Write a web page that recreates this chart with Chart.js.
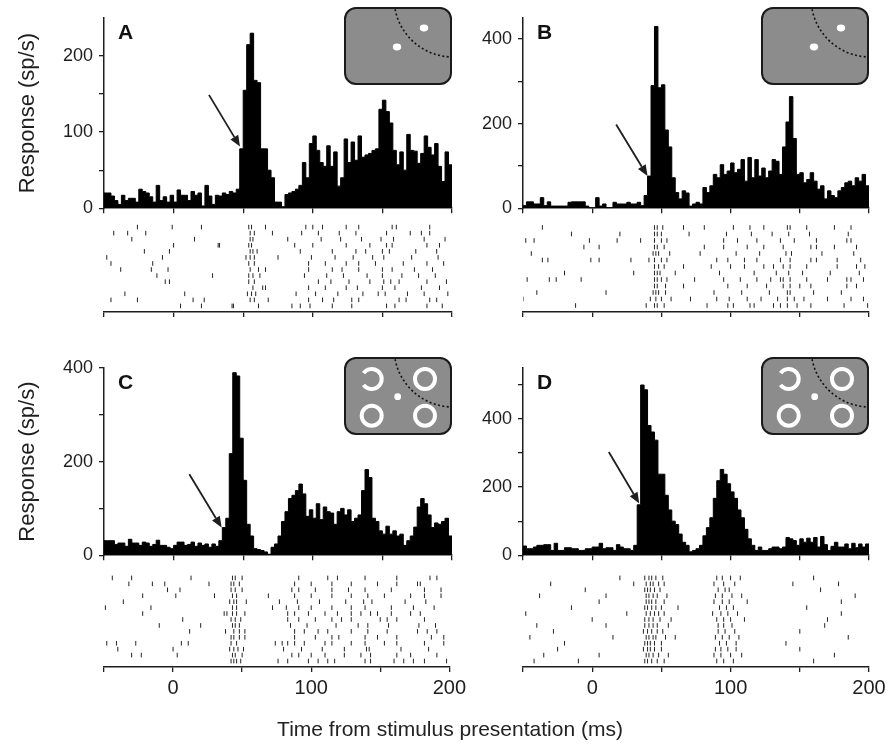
<!DOCTYPE html>
<html>
<head>
<meta charset="utf-8">
<title>PSTH and rasters</title>
<script src="https://cdn.jsdelivr.net/npm/chart.js@4.4.1/dist/chart.umd.min.js"></script>
<style>
  body { margin: 0; background: #fff; width: 893px; height: 745px; position: relative; overflow: hidden;
         font-family: "Liberation Sans", Arial, sans-serif; }
  canvas { position: absolute; }
  #xtitle { position: absolute; left: 0; width: 900px; top: 717px; text-align: center; font-size: 21px; color: #222; }
</style>
</head>
<body>
<canvas id="histA"></canvas>
<canvas id="histB"></canvas>
<canvas id="rastA"></canvas>
<canvas id="rastB"></canvas>
<canvas id="histC"></canvas>
<canvas id="histD"></canvas>
<canvas id="rastC"></canvas>
<canvas id="rastD"></canvas>
<div id="xtitle">Time from stimulus presentation (ms)</div>
<script>
// time axis (ms) and histogram bins
const timeTicks = [-50, 0, 50, 100, 150, 200];
const timeLabels = [0, 100, 200];
const binStart = -50;
const binWidth = 2.5;

// firing rate per 2.5 ms bin (sp/s)
const rateA = [
  20, 20, 16, 10, 5, 17, 10, 13, 13, 8,
  25, 22, 20, 15, 8, 30, 10, 15, 8, 17,
  8, 24, 17, 17, 10, 22, 17, 20, 3, 30,
  16, 5, 17, 16, 20, 18, 22, 20, 25, 78,
  155, 215, 230, 168, 165, 78, 78, 50, 40, 8,
  8, 2, 18, 20, 22, 25, 30, 60, 40, 85,
  95, 76, 60, 55, 82, 55, 74, 29, 40, 91,
  60, 87, 63, 95, 67, 70, 72, 76, 78, 130,
  142, 127, 112, 76, 57, 74, 50, 97, 76, 75,
  59, 72, 95, 80, 70, 85, 55, 35, 74, 57
];
const rateB = [
  6, 15, 15, 10, 10, 25, 6, 15, 5, 5,
  5, 5, 5, 14, 15, 15, 15, 15, 5, 0,
  0, 25, 5, 10, 1, 1, 14, 10, 10, 10,
  14, 10, 10, 14, 6, 30, 76, 290, 430, 285,
  292, 185, 145, 72, 37, 22, 41, 36, 5, 10,
  14, 10, 49, 37, 53, 80, 72, 103, 80, 88,
  107, 84, 92, 115, 64, 120, 72, 115, 76, 95,
  72, 88, 115, 111, 80, 145, 204, 264, 165, 80,
  84, 60, 68, 84, 64, 45, 53, 22, 41, 30,
  25, 41, 49, 60, 64, 53, 72, 64, 80, 53
];
const rateC = [
  31, 31, 31, 23, 26, 26, 19, 34, 26, 26,
  21, 28, 26, 19, 23, 32, 21, 21, 17, 14,
  21, 28, 28, 21, 23, 28, 19, 26, 21, 24,
  17, 24, 19, 31, 59, 79, 217, 390, 383, 250,
  160, 66, 41, 14, 12, 10, 7, 2, 17, 24,
  41, 72, 93, 121, 128, 138, 152, 131, 83, 97,
  79, 110, 76, 103, 93, 90, 66, 93, 100, 86,
  97, 72, 79, 86, 138, 183, 166, 79, 72, 52,
  45, 62, 45, 52, 41, 45, 21, 31, 41, 60,
  103, 121, 110, 86, 59, 69, 66, 72, 79, 41
];
const rateD = [
  27, 19, 19, 24, 29, 29, 31, 31, 14, 35,
  14, 14, 22, 22, 19, 19, 14, 14, 19, 19,
  24, 24, 35, 19, 22, 22, 14, 31, 24, 19,
  19, 14, 29, 148, 500, 486, 381, 362, 338, 238,
  238, 176, 133, 100, 90, 62, 38, 29, 10, 14,
  19, 29, 57, 81, 110, 167, 219, 252, 238, 210,
  186, 167, 133, 110, 76, 48, 29, 14, 24, 14,
  14, 19, 24, 24, 19, 24, 52, 48, 43, 29,
  48, 38, 50, 38, 52, 24, 55, 31, 14, 26,
  38, 24, 24, 33, 19, 35, 22, 33, 24, 33
];

// response axis ticks per panel
const yMaxA = 250, yTicksA = [0, 50, 100, 150, 200], yLabelsA = [0, 100, 200];
const yMaxB = 450, yTicksB = [0, 100, 200, 300, 400], yLabelsB = [0, 200, 400];
const yMaxC = 400, yTicksC = [0, 100, 200, 300, 400], yLabelsC = [0, 200, 400];
const yMaxD = 550, yTicksD = [0, 100, 200, 300, 400, 500], yLabelsD = [0, 200, 400];

// arrows: [tail, tip] as [ms, sp/s]
const arrowA = [[25.4, 149], [47.7, 81]];
const arrowB = [[17.3, 198], [40, 76]];
const arrowC = [[11.3, 173], [34.5, 59]];
const arrowD = [[12, 303], [34, 152]];

// spike times (ms), one array per trial
const spikesA = [
  [5, 20, 42, 43, 61, 85, 91, 98, 114, 128, 153, 159, 182, 193],
  [-45, -26, 14, 22, 55, 58, 68, 97, 107, 115, 128, 133, 162, 167, 184, 189],
  [-35, 8, 53, 56, 59, 88, 102, 118, 136, 147, 152, 168, 180, 197],
  [57, 64, 66, 97, 109, 124, 132, 150, 159, 178, 191],
  [-6, -3, 54, 58, 104, 113, 126, 141, 151, 156, 162, 182, 196],
  [-12, 28, 54, 57, 62, 94, 110, 122, 139, 150, 164, 176, 188],
  [-38, -16, -4, 55, 61, 66, 97, 114, 121, 133, 150, 157, 173, 186],
  [-45, -15, 54, 58, 97, 109, 124, 133, 145, 165, 182, 194],
  [-48, -8, 52, 55, 58, 75, 99, 116, 129, 143, 151, 171, 190],
  [-21, -3, 55, 57, 60, 91, 114, 131, 138, 150, 155, 174, 189],
  [0, 32, 33, 54, 56, 87, 100, 124, 141, 153, 157, 182, 191],
  [-30, 15, 55, 57, 82, 106, 120, 135, 149, 158, 180, 195],
  [-43, -33, -20, 55, 58, 71, 92, 104, 119, 131, 153, 170, 178, 184],
  [-26, -1, 20, 54, 56, 66, 95, 100, 107, 124, 133, 157, 160, 184]
];
const spikesB = [
  [-12, 39, 45, 47, 52, 83, 98, 102, 114, 117, 131, 136, 141, 148, 158, 182, 199],
  [-50, 42, 46, 50, 57, 71, 90, 99, 112, 122, 134, 141, 146, 153, 170, 187, 196],
  [-40, 10, 44, 46, 48, 53, 88, 108, 128, 141, 143, 160, 180],
  [45, 47, 53, 66, 98, 112, 126, 138, 143, 150, 158, 184, 191],
  [-47, -31, -26, -8, 45, 47, 50, 54, 74, 95, 107, 119, 129, 136, 138, 143, 155, 170, 184, 187, 196],
  [-20, 30, 45, 47, 49, 60, 92, 117, 133, 142, 152, 172, 193],
  [45, 48, 52, 66, 86, 100, 110, 124, 131, 138, 143, 155, 177, 191, 197],
  [-36, -32, -1, 5, 28, 41, 45, 50, 54, 90, 98, 110, 119, 136, 143, 158, 162, 177, 194],
  [-44, 44, 46, 48, 56, 78, 104, 121, 140, 144, 166, 189],
  [-6, 5, 45, 47, 52, 81, 95, 112, 124, 138, 158, 162, 175, 191],
  [-48, -42, -2, 18, 35, 45, 50, 54, 95, 105, 119, 136, 146, 162, 184, 187],
  [-15, 20, 45, 47, 50, 70, 97, 115, 130, 142, 157, 185],
  [-36, 45, 47, 51, 66, 81, 102, 114, 124, 141, 143, 155, 175, 187]
];
const spikesC = [
  [42, 44, 46, 49, 76, 83, 98, 105, 112, 117, 139, 143, 160, 167, 174, 182, 198],
  [-30, -23, 3, 43, 45, 50, 86, 91, 100, 110, 124, 136, 143, 162, 172, 191],
  [-40, 0, 41, 44, 47, 51, 80, 93, 108, 124, 140, 142, 165, 185],
  [-48, -41, -27, 6, 11, 42, 46, 74, 79, 83, 88, 95, 110, 115, 129, 139, 153, 162, 182, 196],
  [42, 44, 48, 52, 88, 103, 115, 120, 139, 148, 162, 187, 196],
  [12, 38, 44, 48, 52, 88, 95, 105, 112, 129, 141, 155, 177, 184, 191],
  [-10, 20, 43, 45, 48, 85, 97, 118, 134, 141, 156, 178, 190],
  [7, 42, 45, 49, 83, 91, 103, 115, 122, 129, 150, 155, 162, 182],
  [-22, 37, 39, 43, 46, 52, 83, 88, 98, 110, 119, 129, 136, 143, 148, 158, 172, 179],
  [-49, -16, 43, 46, 72, 82, 91, 100, 115, 129, 139, 158, 174, 189],
  [-36, 41, 44, 46, 53, 77, 90, 106, 125, 138, 144, 168, 183],
  [-22, 2, 30, 43, 46, 69, 88, 100, 115, 129, 141, 153, 172, 182, 194],
  [-4, 5, 42, 45, 50, 86, 91, 103, 115, 127, 139, 158, 182, 194],
  [-32, -15, -6, 26, 42, 44, 48, 88, 100, 115, 129, 148, 162, 177, 179],
  [-44, -30, 13, 43, 45, 50, 91, 112, 119, 139, 162, 186, 191]
];
const spikesD = [
  [-42, -10, 38, 40, 43, 47, 52, 90, 95, 102, 160],
  [-35, 5, 39, 41, 44, 48, 55, 88, 93, 100, 108, 175],
  [-25, 37, 40, 42, 45, 50, 89, 93, 98, 104, 150],
  [-20, 38, 40, 42, 45, 50, 92, 97, 104, 140],
  [-45, 15, 39, 41, 44, 46, 53, 60, 89, 94, 99, 106, 185],
  [-28, 37, 40, 43, 47, 51, 91, 96, 103, 150],
  [-40, 10, 38, 41, 44, 47, 55, 91, 95, 101, 168],
  [0, 38, 41, 44, 49, 57, 90, 95, 100, 110, 170],
  [-48, 25, 39, 42, 45, 48, 52, 87, 93, 98, 105, 180],
  [-15, 38, 40, 43, 46, 50, 62, 92, 97, 102, 155],
  [5, 39, 41, 43, 46, 52, 88, 94, 99, 112, 180],
  [-38, 10, 39, 41, 44, 47, 54, 89, 94, 101, 108, 190],
  [-5, 38, 40, 42, 45, 49, 91, 96, 99, 165],
  [-30, 30, 39, 42, 44, 48, 52, 88, 95, 103, 145, 178],
  [20, 38, 41, 43, 46, 51, 90, 94, 100, 107, 160]
];

const FONT = '"Liberation Sans", Arial, sans-serif';
const INK = '#1e1e1e';
Chart.defaults.font.family = FONT;
Chart.defaults.color = INK;

function place(canvas, box) {
  canvas.width = box.w;
  canvas.height = box.h;
  canvas.style.left = box.left + 'px';
  canvas.style.top = box.top + 'px';
}

// small task screen drawn in the corner of each histogram
function drawScreen(ctx, area, rings) {
  const w = 106, h = 76;
  const x = area.right - w - 1, y = area.top - 10;
  ctx.save();
  ctx.beginPath();
  ctx.roundRect(x, y, w, h, 11);
  ctx.fillStyle = '#8c8c8c';
  ctx.fill();
  ctx.save();
  ctx.clip();
  ctx.beginPath();
  ctx.setLineDash([2, 2.4]);
  ctx.lineWidth = 1.6;
  ctx.strokeStyle = '#111';
  ctx.arc(x + 108, y - 10, 59, Math.PI * 0.5, Math.PI);
  ctx.stroke();
  ctx.restore();
  ctx.setLineDash([]);
  ctx.fillStyle = '#fff';
  ctx.strokeStyle = '#fff';
  if (rings) {
    ctx.beginPath();
    ctx.arc(x + 52.7, y + 38.7, 3.4, 0, Math.PI * 2);
    ctx.fill();
    ctx.lineWidth = 4;
    [[26.7, 21], [80, 21], [26.7, 57.7], [80, 57.7]].forEach(([cx, cy], i) => {
      ctx.beginPath();
      if (i === 0) ctx.arc(x + cx, y + cy, 10, Math.PI * 1.2, Math.PI * 0.8);
      else ctx.arc(x + cx, y + cy, 10, 0, Math.PI * 2);
      ctx.stroke();
    });
  } else {
    ctx.beginPath();
    ctx.ellipse(x + 79, y + 20, 4.2, 3.4, 0, 0, Math.PI * 2);
    ctx.ellipse(x + 52, y + 39, 4.2, 3.4, 0, 0, Math.PI * 2);
    ctx.fill();
  }
  ctx.beginPath();
  ctx.roundRect(x, y, w, h, 11);
  ctx.lineWidth = 2;
  ctx.strokeStyle = '#1a1a1a';
  ctx.stroke();
  ctx.restore();
}

function drawArrow(ctx, x0, y0, x1, y1) {
  const a = Math.atan2(y1 - y0, x1 - x0);
  const head = 11, half = 4.5;
  const bx = x1 - head * Math.cos(a), by = y1 - head * Math.sin(a);
  ctx.save();
  ctx.strokeStyle = INK;
  ctx.fillStyle = INK;
  ctx.lineWidth = 1.8;
  ctx.beginPath();
  ctx.moveTo(x0, y0);
  ctx.lineTo(bx, by);
  ctx.stroke();
  ctx.beginPath();
  ctx.moveTo(x1, y1);
  ctx.lineTo(bx + half * Math.sin(a), by - half * Math.cos(a));
  ctx.lineTo(bx - half * Math.sin(a), by + half * Math.cos(a));
  ctx.closePath();
  ctx.fill();
  ctx.restore();
}

const axisLine = { color: INK, width: 1.5 };
const tickGrid = { drawOnChartArea: false, tickLength: 5, color: INK, lineWidth: 1.3 };

function histogram(id, box, area, rate, yMax, yTicks, yLabels, withTitle, letter, rings, arrow) {
  const canvas = document.getElementById(id);
  place(canvas, box);
  const pts = rate.map((v, i) => ({ x: binStart + i * binWidth, y: v }));
  pts.push({ x: binStart + rate.length * binWidth, y: rate[rate.length - 1] });
  return new Chart(canvas, {
    type: 'line',
    data: {
      datasets: [{
        data: pts,
        stepped: true,
        fill: 'origin',
        backgroundColor: '#000',
        borderColor: '#000',
        borderWidth: 1,
        pointRadius: 0
      }]
    },
    options: {
      responsive: false,
      animation: false,
      events: [],
      layout: { padding: { left: 0, bottom: 0, top: area.t - box.top, right: box.left + box.w - area.r } },
      plugins: { legend: { display: false }, tooltip: { enabled: false } },
      scales: {
        x: {
          type: 'linear', min: -50, max: 200,
          afterBuildTicks: s => { s.ticks = timeTicks.map(v => ({ value: v })); },
          ticks: { display: false },
          grid: tickGrid,
          border: axisLine,
          afterFit: s => { s.height = box.top + box.h - area.b; }
        },
        y: {
          type: 'linear', min: 0, max: yMax,
          afterBuildTicks: s => { s.ticks = yTicks.map(v => ({ value: v })); },
          ticks: { callback: v => (yLabels.includes(v) ? v : ''), font: { size: 18 }, padding: 6 },
          grid: tickGrid,
          border: axisLine,
          title: { display: withTitle, text: 'Response (sp/s)', font: { size: 22 }, padding: { top: 15, bottom: 0 } },
          afterFit: s => { s.width = area.l - box.left; }
        }
      }
    },
    plugins: [{
      id: 'panelDecor',
      afterDraw(chart) {
        const { ctx, chartArea, scales } = chart;
        const sx = scales.x, sy = scales.y;
        drawArrow(ctx, sx.getPixelForValue(arrow[0][0]), sy.getPixelForValue(arrow[0][1]),
          sx.getPixelForValue(arrow[1][0]), sy.getPixelForValue(arrow[1][1]));
        drawScreen(ctx, chartArea, rings);
        ctx.save();
        ctx.fillStyle = '#111';
        ctx.font = 'bold 21px ' + FONT;
        ctx.textBaseline = 'alphabetic';
        ctx.fillText(letter, chartArea.left + 14, chartArea.top + 21);
        ctx.restore();
      }
    }]
  });
}

function raster(id, box, area, trials, showLabels) {
  const canvas = document.getElementById(id);
  place(canvas, box);
  const pts = [];
  trials.forEach((row, i) => row.forEach(t => pts.push({ x: t, y: i + 1 })));
  return new Chart(canvas, {
    type: 'scatter',
    data: {
      datasets: [{
        data: pts,
        pointStyle: 'line',
        pointRotation: 90,
        pointRadius: 2.3,
        pointBorderWidth: 1,
        pointBorderColor: '#222',
        pointBackgroundColor: '#222'
      }]
    },
    options: {
      responsive: false,
      animation: false,
      events: [],
      layout: { padding: { left: area.l - box.left, bottom: 0, top: area.t - box.top, right: box.left + box.w - area.r } },
      plugins: { legend: { display: false }, tooltip: { enabled: false } },
      scales: {
        x: {
          type: 'linear', min: -50, max: 200,
          afterBuildTicks: s => { s.ticks = timeTicks.map(v => ({ value: v })); },
          ticks: { display: showLabels, callback: v => (timeLabels.includes(v) ? v : ''), font: { size: 20 }, padding: 4, maxRotation: 0 },
          grid: tickGrid,
          border: axisLine,
          afterFit: s => { s.height = box.top + box.h - area.b; }
        },
        y: { display: false, min: 0, max: trials.length + 1 }
      }
    }
  });
}

histogram('histA', { left: 0, top: 0, w: 470, h: 225 }, { l: 104, t: 18, r: 452, b: 213 },
  rateA, yMaxA, yTicksA, yLabelsA, true, 'A', false, arrowA);
histogram('histB', { left: 470, top: 0, w: 423, h: 225 }, { l: 523, t: 18, r: 869, b: 213 },
  rateB, yMaxB, yTicksB, yLabelsB, false, 'B', false, arrowB);
raster('rastA', { left: 0, top: 216, w: 470, h: 110 }, { l: 104, t: 220, r: 452, b: 312 }, spikesA, false);
raster('rastB', { left: 470, top: 216, w: 423, h: 110 }, { l: 523, t: 220, r: 869, b: 312 }, spikesB, false);
histogram('histC', { left: 0, top: 350, w: 470, h: 222 }, { l: 104, t: 368, r: 452, b: 562 },
  rateC, yMaxC, yTicksC, yLabelsC, true, 'C', true, arrowC);
histogram('histD', { left: 470, top: 350, w: 423, h: 222 }, { l: 523, t: 368, r: 869, b: 562 },
  rateD, yMaxD, yTicksD, yLabelsD, false, 'D', true, arrowD);
raster('rastC', { left: 0, top: 566, w: 470, h: 140 }, { l: 104, t: 572, r: 452, b: 667 }, spikesC, true);
raster('rastD', { left: 470, top: 566, w: 423, h: 140 }, { l: 523, t: 572, r: 869, b: 667 }, spikesD, true);
</script>
</body>
</html>
